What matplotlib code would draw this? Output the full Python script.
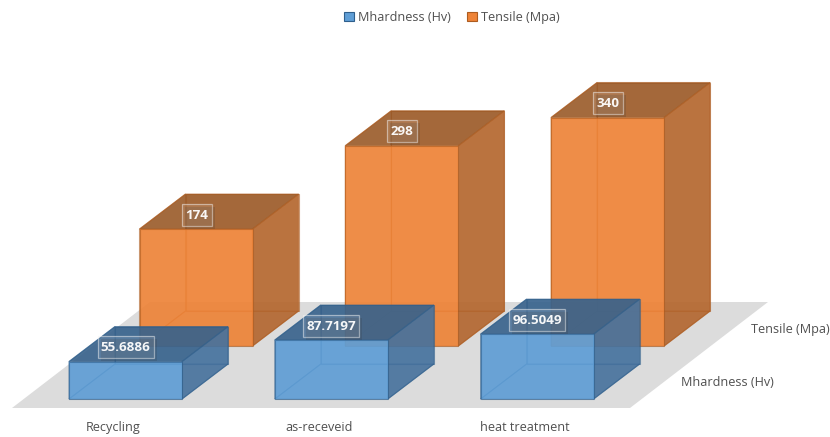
import matplotlib
matplotlib.use("Agg")
import matplotlib.pyplot as plt
from matplotlib.patches import Polygon, Rectangle, Patch

categories = ["Recycling", "as-receveid", "heat treatment"]
series_names = ["Mhardness (Hv)", "Tensile (Mpa)"]
hardness = [55.6886, 87.7197, 96.5049]
tensile = [174, 298, 340]
hardness_labels = ["55.6886", "87.7197", "96.5049"]
tensile_labels = ["174", "298", "340"]

# Oblique projection of the value axis and depth axis onto the canvas (pixels)
PX_PER_UNIT = 0.672
BAR_W = 113
DEPTH_X, DEPTH_Y = 46, -35
SLOT_X = 205.8
BLUE_X0, BLUE_BASE = 69, 399
ORANGE_X0, ORANGE_BASE = 139.5, 346

BLUE = dict(front="#5f9ed6", side="#44709c", top="#35608a", edge="#2f5f8c")
ORANGE = dict(front="#ee8337", side="#b2642c", top="#985826", edge="#ad5c20")

plt.rcParams["font.family"] = ["Open Sans", "DejaVu Sans"]
fig = plt.figure(figsize=(8.30, 4.37), dpi=100)
ax = fig.add_axes([0, 0, 1, 1])
ax.set_xlim(0, 830)
ax.set_ylim(437, 0)
ax.axis("off")

# Floor of the 3-D plot area
floor = Polygon([(12, 408), (150, 302), (768, 302), (630, 408)],
                closed=True, fc="#dcdcdc", ec="none", zorder=1)
ax.add_patch(floor)


def draw_box(x, base, value, pal, z):
    h = value * PX_PER_UNIT
    dx, dy = DEPTH_X, DEPTH_Y
    w = BAR_W
    top = base - h
    faces = [
        ([(x + dx, base + dy), (x + w + dx, base + dy), (x + w + dx, top + dy), (x + dx, top + dy)], pal["front"], 0.25),
        ([(x, base), (x + dx, base + dy), (x + dx, top + dy), (x, top)], pal["side"], 0.12),
        ([(x, base), (x + w, base), (x + w + dx, base + dy), (x + dx, base + dy)], pal["side"], 0.15),
        ([(x + w, base), (x + w + dx, base + dy), (x + w + dx, top + dy), (x + w, top)], pal["side"], 0.88),
        ([(x, top), (x + w, top), (x + w + dx, top + dy), (x + dx, top + dy)], pal["top"], 0.88),
        ([(x, base), (x + w, base), (x + w, top), (x, top)], pal["front"], 0.90),
    ]
    for i, (pts, color, alpha) in enumerate(faces):
        ax.add_patch(Polygon(pts, closed=True, fc=color, ec="none", alpha=alpha, zorder=z + i * 0.01))
        ax.add_patch(Polygon(pts, closed=True, fill=False, ec=pal["edge"], lw=0.8, alpha=0.6, zorder=z + i * 0.01 + 0.005))
    return top


def draw_label(x, y, text, w, h):
    ax.add_patch(Rectangle((x - w / 2 + 3, y - h / 2 + 3), w, h, fc="#303030", ec="none", alpha=0.16, zorder=20))
    ax.add_patch(Rectangle((x - w / 2, y - h / 2), w, h, fc="white", ec="none", alpha=0.10, zorder=21))
    ax.add_patch(Rectangle((x - w / 2, y - h / 2), w, h, fill=False, ec="#f2f2f2", lw=0.9, alpha=0.5, zorder=21.5))
    ax.text(x, y + 0.5, text, color="white", fontsize=9.6, fontweight="bold", ha="center", va="center", alpha=0.95, zorder=22)


tops = []
for i, val in enumerate(tensile):
    x = ORANGE_X0 + i * SLOT_X
    top = draw_box(x, ORANGE_BASE, val, ORANGE, 5)
    tops.append((x, top))
blue_tops = []
for i, val in enumerate(hardness):
    x = BLUE_X0 + i * SLOT_X
    top = draw_box(x, BLUE_BASE, val, BLUE, 10)
    blue_tops.append((x, top))

for (x, top), text in zip(tops, tensile_labels):
    draw_label(x + 57, top - 14.5, text, 30, 22)
for (x, top), text in zip(blue_tops, hardness_labels):
    draw_label(x + 56.5, top - 14.5, text, 56, 22)

# Category labels along the front edge, series labels along the depth axis
text_grey = "#505050"
for i, name in enumerate(categories):
    ax.text([113.5, 319, 525][i], 427.5, name, color=text_grey, fontsize=9.1, ha="center", va="center")
ax.text(681, 382, series_names[0], color=text_grey, fontsize=9.1, ha="left", va="center")
ax.text(751, 329.5, series_names[1], color=text_grey, fontsize=9.1, ha="left", va="center")

handles = [Patch(fc=BLUE["front"], ec=BLUE["edge"], lw=0.8, label=series_names[0]),
           Patch(fc=ORANGE["front"], ec=ORANGE["edge"], lw=0.8, label=series_names[1])]
ax.legend(handles=handles, loc="center", bbox_to_anchor=(452, 17.5), bbox_transform=ax.transData,
          ncol=2, frameon=False, fontsize=9.1, labelcolor=text_grey, handlelength=0.8, handleheight=0.8,
          handletextpad=0.3, columnspacing=1.3)

fig.savefig("out.png", dpi=100)
